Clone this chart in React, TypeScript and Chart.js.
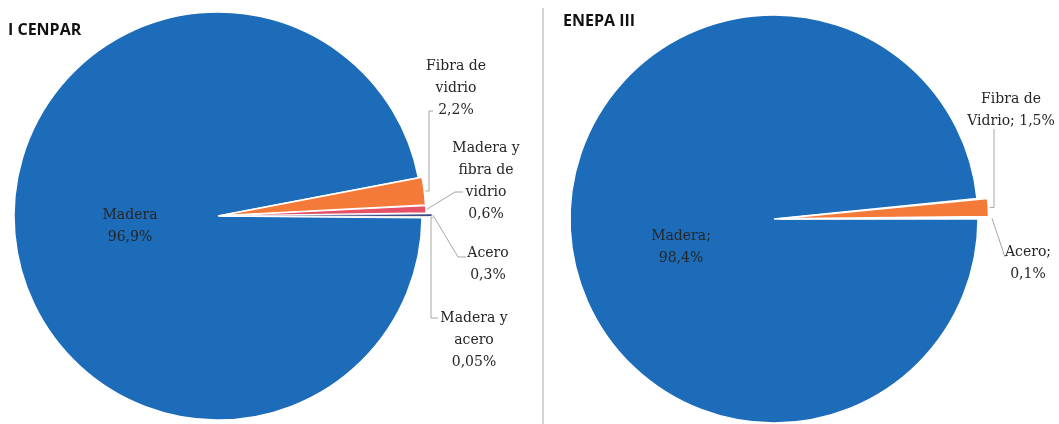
import React, { useEffect, useRef } from "react";
import { Chart, registerables } from "chart.js";

Chart.register(...registerables);

// ---------- data ----------
const cenparCategories = ["Madera", "Fibra de vidrio", "Madera y fibra de vidrio", "Acero", "Madera y acero"];
const cenparValues = [96.9, 2.2, 0.6, 0.3, 0.05];
const cenparLabels = [
  ["Madera", "96,9%"],
  ["Fibra de", "vidrio", "2,2%"],
  ["Madera y", "fibra de", "vidrio", "0,6%"],
  ["Acero", "0,3%"],
  ["Madera y", "acero", "0,05%"],
];

const enepaCategories = ["Madera", "Fibra de Vidrio", "Acero"];
const enepaValues = [98.4, 1.5, 0.1];
const enepaLabels = [
  ["Madera;", "98,4%"],
  ["Fibra de", "Vidrio; 1,5%"],
  ["Acero;", "0,1%"],
];

// ---------- styles / layout ----------
const cenparColors = ["#1D6CB9", "#F47A3A", "#E45066", "#27377A", "#9A9A9A"];
const cenparBorders = [1.5, 1.5, 1.2, 0.6, 0.3];
const cenparOffsets = [0, 8, 8, 20, 20];
const cenparLabelPos = [
  [130, 215],
  [456, 66],
  [486, 148],
  [488, 253],
  [474, 318],
];
const cenparLeaders: any[] = [
  null,
  { pts: [[433, 111], [429, 111]], vertical: true },
  { pts: [[463, 192], [455, 192]], vertical: false },
  { pts: [[466, 257], [458, 257]], vertical: false },
  { pts: [[438, 318], [431, 318]], vertical: true },
];

const enepaColors = ["#1D6CB9", "#F47A3A", "#27377A"];
const enepaBorders = [1.5, 1.5, 0.6];
const enepaOffsets = [0, 22, 26];
const enepaLabelPos = [
  [681, 236],
  [1011, 99],
  [1028, 252],
];
const enepaLeaders: any[] = [
  null,
  { pts: [[994, 129]], vertical: true },
  { pts: [[1005, 257]], vertical: false },
];

const LINE_H = 22;

function PiePanel(props: any) {
  const {
    left, width, title, titleX, titleY, cats, values, colors, borders, offsets,
    rotation, radius, padding, labels, labelPos, leaders,
  } = props;
  const ref = useRef<HTMLCanvasElement>(null);

  useEffect(() => {
    const canvas = ref.current!;
    const plugin = {
      id: "pieLabels",
      afterDatasetsDraw(chart: any) {
        const ctx = chart.ctx as CanvasRenderingContext2D;
        const meta = chart.getDatasetMeta(0);
        ctx.save();
        ctx.strokeStyle = "#A6A6A6";
        ctx.lineWidth = 1;
        leaders.forEach((ld: any, i: number) => {
          if (!ld) return;
          const arc = meta.data[i] as any;
          const off = offsets[i] || 0;
          const mid = (arc.startAngle + arc.endAngle) / 2;
          const r = arc.outerRadius + off / 2 + 1;
          const ax = arc.x + Math.cos(mid) * r;
          const ay = arc.y + Math.sin(mid) * r;
          const pts = ld.pts.map((p: number[]) => [p[0] - left, p[1]]);
          if (ld.vertical) pts.push([pts[pts.length - 1][0], ay]);
          pts.push([ax, ay]);
          ctx.beginPath();
          pts.forEach((p: number[], k: number) => {
            if (k === 0) ctx.moveTo(p[0], p[1]);
            else ctx.lineTo(p[0], p[1]);
          });
          ctx.stroke();
        });
        ctx.font = '14px "DejaVu Serif"';
        ctx.fillStyle = "#262626";
        ctx.textAlign = "center";
        ctx.textBaseline = "middle";
        labels.forEach((lines: string[], i: number) => {
          const [cx, cy] = labelPos[i];
          lines.forEach((t, j) => ctx.fillText(t, cx - left, cy + j * LINE_H));
        });
        ctx.font = 'bold 16px "Open Sans"';
        ctx.fillStyle = "#111";
        ctx.textAlign = "left";
        ctx.textBaseline = "alphabetic";
        ctx.fillText(title, titleX - left, titleY);
        ctx.restore();
      },
    };
    const chart = new Chart(canvas, {
      type: "pie",
      data: {
        labels: cats,
        datasets: [
          {
            data: values,
            backgroundColor: colors,
            borderColor: "#FFFFFF",
            borderWidth: borders,
            offset: offsets,
            radius: radius,
            clip: false,
          } as any,
        ],
      },
      options: {
        responsive: false,
        animation: false,
        devicePixelRatio: 1,
        rotation: rotation,
        layout: { padding },
        events: [],
        plugins: { legend: { display: false }, tooltip: { enabled: false } },
      } as any,
      plugins: [plugin],
    });
    return () => chart.destroy();
  }, []);

  return (
    <canvas
      ref={ref}
      width={width}
      height={424}
      style={{ position: "absolute", left, top: 0, width, height: 424 }}
    />
  );
}

export default function App() {
  return (
    <div
      style={{
        position: "fixed",
        left: 0,
        top: 0,
        width: 1059,
        height: 424,
        overflow: "hidden",
        background: "#FFFFFF",
      }}
    >
      <PiePanel
        left={0}
        width={541}
        title="I CENPAR"
        titleX={8}
        titleY={35}
        cats={cenparCategories}
        values={cenparValues}
        colors={cenparColors}
        borders={cenparBorders}
        offsets={cenparOffsets}
        rotation={90.5}
        radius={204}
        padding={{ left: 0, right: 105, top: 8, bottom: 0 }}
        labels={cenparLabels}
        labelPos={cenparLabelPos}
        leaders={cenparLeaders}
      />
      <div
        style={{ position: "absolute", left: 542, top: 8, width: 2, height: 416, background: "#D6D6D6" }}
      />
      <PiePanel
        left={543}
        width={516}
        title="ENEPA III"
        titleX={563}
        titleY={26}
        cats={enepaCategories}
        values={enepaValues}
        colors={enepaColors}
        borders={enepaBorders}
        offsets={enepaOffsets}
        rotation={90}
        radius={204}
        padding={{ left: 0, right: 54, top: 14, bottom: 0 }}
        labels={enepaLabels}
        labelPos={enepaLabelPos}
        leaders={enepaLeaders}
      />
    </div>
  );
}
